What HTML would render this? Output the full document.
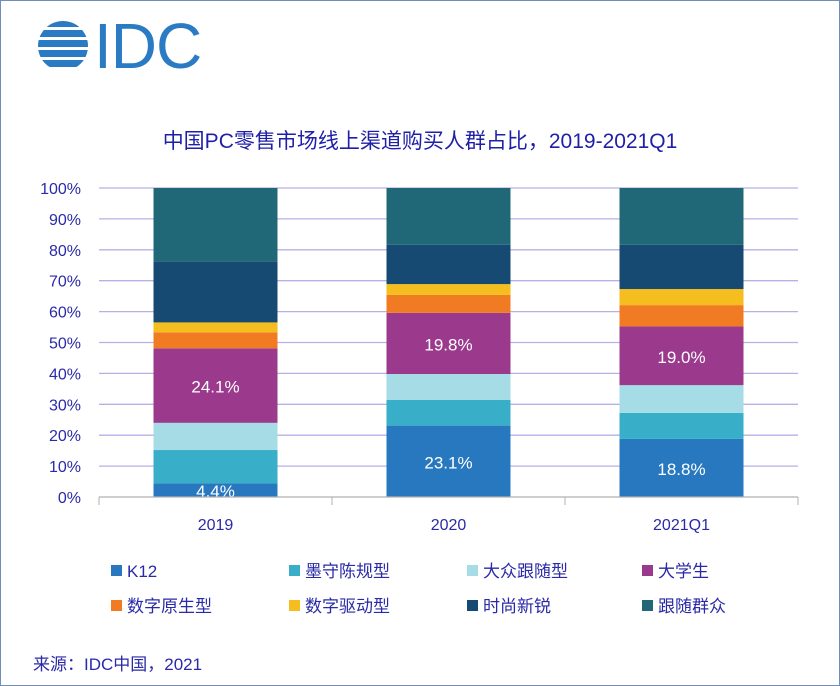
<!DOCTYPE html>
<html><head><meta charset="utf-8"><style>
body{margin:0;background:#fff}
#c{position:relative;width:838px;height:684px;border:1px solid #6f8fb8;overflow:hidden;font-family:"Liberation Sans","Noto Sans CJK SC",sans-serif}
</style></head><body>
<div id="c">
<svg width="838" height="684">
<g>
 <clipPath id="gc"><circle cx="62" cy="45" r="25"/></clipPath>
 <g clip-path="url(#gc)" fill="#2a7bc4">
  <rect x="30" y="20" width="70" height="6"/><rect x="30" y="29" width="70" height="7"/>
  <rect x="30" y="39" width="70" height="7"/><rect x="30" y="49" width="70" height="7"/>
  <rect x="30" y="59" width="70" height="7"/>
 </g>
 <text x="93" y="67" font-size="64" fill="#2a7bc4" letter-spacing="-1" font-family="Liberation Sans, sans-serif">IDC</text>
</g>
<text x="419" y="147" text-anchor="middle" font-size="21" fill="#1f1fa8">中国PC零售市场线上渠道购买人群占比，2019-2021Q1</text>
<g id="grid"></g><g id="bars"></g><g id="axis"></g><g id="legend"></g>
<text x="32" y="669" font-size="17" fill="#2a2aa8">来源：IDC中国，2021</text>
</svg>
</div>
<script>
const categories=["2019","2020","2021Q1"];
const seriesNames=["K12","墨守陈规型","大众跟随型","大学生","数字原生型","数字驱动型","时尚新锐","跟随群众"];
const k12=[4.4,23.1,18.8];
const moshou=[10.8,8.3,8.4];
const dazhong=[8.8,8.4,9.0];
const daxuesheng=[24.1,19.8,19.0];
const yuansheng=[5.2,5.8,6.9];
const qudong=[3.2,3.5,5.2];
const shishang=[19.8,12.7,14.3];
const gensui=[23.7,18.4,18.4];
const yTicks=[0,10,20,30,40,50,60,70,80,90,100];
const labeledSeries=[0,3];
const colors=["#2878c0","#38aec8","#a5dce6","#9b3a8c","#f07b22","#f5be1e","#174a72","#206878"];
const series=[k12,moshou,dazhong,daxuesheng,yuansheng,qudong,shishang,gensui];
const NS="http://www.w3.org/2000/svg";
const x0=98,x1=797,yb=496,yt=187;
const y=v=>yb-(yb-yt)*v/100;
const bw=124, slot=(x1-x0)/categories.length;
const xc=i=>x0+slot*(i+0.5);
function mk(t,a,p){const e=document.createElementNS(NS,t);for(const k in a)e.setAttribute(k,a[k]);p.appendChild(e);return e;}
const G=document.getElementById('grid'),B=document.getElementById('bars'),A=document.getElementById('axis'),L=document.getElementById('legend');
yTicks.forEach(t=>{
 if(t>0){const l=mk('line',{x1:x0,x2:x1,y1:y(t),y2:y(t),stroke:'#b6b0e6','stroke-width':1.3},G);
 
 }
 const tx=mk('text',{x:80,y:y(t)+6,'text-anchor':'end','font-size':16,fill:'#2a2aa8'},A);tx.textContent=t+'%';
 
 
});
const ax=mk('line',{x1:x0,x2:x1,y1:yb,y2:yb,stroke:'#b0b0b0','stroke-width':1.3},A);


for(let i=0;i<=categories.length;i++){const tk=mk('line',{x1:x0+slot*i,x2:x0+slot*i,y1:yb,y2:yb+8,stroke:'#b0b0b0'},A);
 
 }
categories.forEach((c,i)=>{
 let cum=0;
 series.forEach((s,j)=>{
  const v=s[i];const top=y(cum+v),bot=y(cum);
  const r=mk('rect',{x:xc(i)-bw/2,y:top,width:bw,height:bot-top,fill:colors[j]},B);
  
  
  if(labeledSeries.includes(j)){const t=mk('text',{x:xc(i),y:(top+bot)/2+7,'text-anchor':'middle','font-size':17,fill:'#fff'},B);t.textContent=v.toFixed(1)+'%';
   
   }
  cum+=v;
 });
 const t=mk('text',{x:xc(i),y:529,'text-anchor':'middle','font-size':16,fill:'#2a2aa8'},A);t.textContent=c;
 
 
});
const lx=[110,288,466,641];
seriesNames.forEach((n,j)=>{
 const gx=lx[j%4],gy=j<4?570:605;
 const g=mk('g',{},L);
 
 
 mk('rect',{x:gx,y:gy-6,width:11,height:11,fill:colors[j]},g);
 const t=mk('text',{x:gx+16,y:gy+6,'font-size':17,fill:'#2a2aa8'},g);t.textContent=n;
});
</script>
</body></html>
